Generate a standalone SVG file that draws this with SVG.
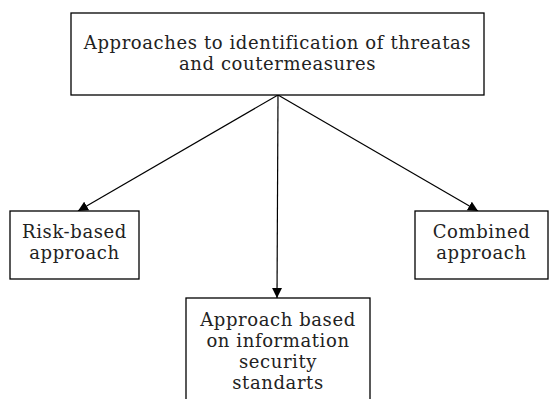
<svg xmlns="http://www.w3.org/2000/svg" width="549" height="399" viewBox="0 0 549 399">
<style>
.box{fill:#fff;stroke:#000;stroke-width:1.3}
.t{font-family:"DejaVu Serif","Liberation Serif",serif;font-size:18px;letter-spacing:0.6px;fill:#222;text-anchor:middle}
.c{stroke:#000;stroke-width:1.2;fill:none}
</style>
<defs>
<marker id="ah" viewBox="0 0 10 10" refX="10" refY="5" markerWidth="10" markerHeight="10" markerUnits="userSpaceOnUse" orient="auto">
<path d="M0,0 L10,5 L0,10 z" fill="#000"/>
</marker>
</defs>
<rect width="549" height="399" fill="#fff"/>
<g id="connectors">
<line class="c" x1="278" y1="95" x2="78" y2="211" marker-end="url(#ah)"/>
<line class="c" x1="278" y1="95" x2="277" y2="298" marker-end="url(#ah)"/>
<line class="c" x1="278" y1="95" x2="478" y2="211" marker-end="url(#ah)"/>
</g>
<g id="root">
<rect class="box" x="71" y="13" width="413" height="82"/>
<text class="t" x="277.5" y="49">Approaches to identification of threatas</text>
<text class="t" x="277.5" y="70">and coutermeasures</text>
</g>
<g id="risk">
<rect class="box" x="10" y="211" width="129" height="68"/>
<text class="t" x="74.5" y="238">Risk-based</text>
<text class="t" x="74.5" y="259">approach</text>
</g>
<g id="combined">
<rect class="box" x="415" y="211" width="133" height="68"/>
<text class="t" x="481.5" y="238">Combined</text>
<text class="t" x="481.5" y="259">approach</text>
</g>
<g id="standards">
<rect class="box" x="186" y="298" width="184" height="110"/>
<text class="t" x="278" y="326">Approach based</text>
<text class="t" x="278" y="347">on information</text>
<text class="t" x="278" y="368">security</text>
<text class="t" x="278" y="389">standarts</text>
</g>
</svg>
